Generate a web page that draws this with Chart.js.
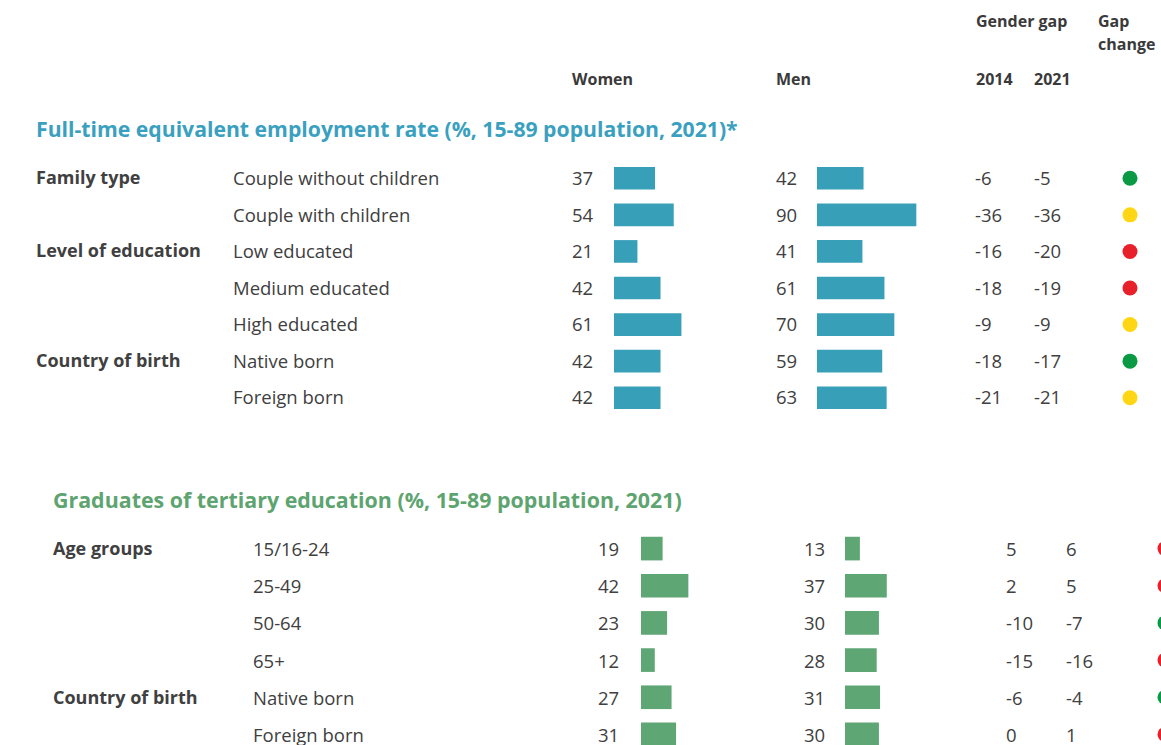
<!DOCTYPE html>
<html><head><meta charset="utf-8">
<script src="https://cdn.jsdelivr.net/npm/chart.js@4/dist/chart.umd.min.js"></script>
<style>
html,body{margin:0;padding:0;width:1161px;height:745px;overflow:hidden;background:#fff;font-family:"Open Sans",sans-serif;color:#404040}
.t{position:absolute;white-space:nowrap;line-height:1.2;transform:translateY(-50%);font-size:18.5px}
.b{font-weight:bold;font-size:18px}
.h{font-weight:bold;font-size:16px;color:#3a3a3a}
canvas{position:absolute}
</style></head><body>
<script>
// ---------- DATA ----------
const empGroups   = ["Family type", "", "Level of education", "", "", "Country of birth", ""];
const empRows     = ["Couple without children", "Couple with children", "Low educated", "Medium educated", "High educated", "Native born", "Foreign born"];
const empWomen    = [37, 54, 21, 42, 61, 42, 42];
const empMen      = [42, 90, 41, 61, 70, 59, 63];
const empGap2014  = [-6, -36, -16, -18, -9, -18, -21];
const empGap2021  = [-5, -36, -20, -19, -9, -17, -21];
const empChange   = ["better", "same", "worse", "worse", "same", "better", "same"];

const gradGroups  = ["Age groups", "", "", "", "Country of birth", ""];
const gradRows    = ["15/16-24", "25-49", "50-64", "65+", "Native born", "Foreign born"];
const gradWomen   = [19, 42, 23, 12, 27, 31];
const gradMen     = [13, 37, 30, 28, 31, 30];
const gradGap2014 = [5, 2, -10, -15, -6, 0];
const gradGap2021 = [6, 5, -7, -16, -4, 1];
const gradChange  = ["worse", "worse", "better", "worse", "better", "worse"];

const changeColors = {better: "#0a9a44", same: "#ffd614", worse: "#e8202a"};

// ---------- helpers ----------
function txt(s, x, y, cls, color, size) {
  const d = document.createElement("div");
  d.className = "t " + (cls || "");
  d.textContent = s;
  d.style.left = x + "px";
  d.style.top = y + "px";
  if (color) d.style.color = color;
  if (size) d.style.fontSize = size + "px";
  document.body.appendChild(d);
}
function mkCanvas(x, y, w, h) {
  const c = document.createElement("canvas");
  c.width = w; c.height = h;
  c.style.left = x + "px"; c.style.top = y + "px";
  c.style.width = w + "px"; c.style.height = h + "px";
  document.body.appendChild(c);
  return c;
}
function barChart(x, top, rowH, labels, values, color, pxPerUnit, thick) {
  const w = 120, h = Math.round(rowH * labels.length);
  const c = mkCanvas(x, top, w, h);
  new Chart(c, {
    type: "bar",
    data: {labels: labels, datasets: [{data: values, backgroundColor: color, borderWidth: 0, barThickness: thick}]},
    options: {
      indexAxis: "y", responsive: false, animation: false, devicePixelRatio: 1,
      layout: {padding: 0, autoPadding: false},
      plugins: {legend: {display: false}, tooltip: {enabled: false}},
      scales: {x: {display: false, min: 0, max: w / pxPerUnit}, y: {display: false}}
    }
  });
}
function dotChart(cx, top, rowH, changes) {
  const w = 30, h = Math.round(rowH * changes.length);
  const c = mkCanvas(cx - w / 2, top, w, h);
  new Chart(c, {
    type: "scatter",
    data: {datasets: [{
      data: changes.map((s, i) => ({x: 0, y: i})),
      pointRadius: 7.5, pointHoverRadius: 7.5, borderWidth: 0,
      pointBackgroundColor: changes.map(s => changeColors[s])
    }]},
    options: {
      responsive: false, animation: false, devicePixelRatio: 1,
      layout: {padding: 0, autoPadding: false},
      plugins: {legend: {display: false}, tooltip: {enabled: false}},
      scales: {x: {display: false, min: -1, max: 1}, y: {display: false, min: -0.5, max: changes.length - 0.5, reverse: true}}
    }
  });
}

// ---------- headers ----------
txt("Gender gap", 976, 22, "h");
txt("Gap", 1098, 22, "h");
txt("change", 1098, 45, "h");
txt("Women", 572, 80, "h");
txt("Men", 776, 80, "h");
txt("2014", 976, 80, "h");
txt("2021", 1034, 80, "h");

// ---------- section 1 ----------
const blue = "#379fb8";
txt("Full-time equivalent employment rate (%, 15-89 population, 2021)*", 36, 129, "b", "#3aa0bf", 21.2);
const r1 = 36.5, c1 = 178;
empRows.forEach((r, i) => {
  const y = c1 + i * r1;
  if (empGroups[i]) txt(empGroups[i], 36, y, "b");
  txt(r, 233, y);
  txt(String(empWomen[i]), 572, y);
  txt(String(empMen[i]), 776, y);
  txt(String(empGap2014[i]), 975, y);
  txt(String(empGap2021[i]), 1034, y);
});
barChart(614, c1 - r1 / 2, r1, empRows, empWomen, blue, 1.1, 22);
barChart(817, c1 - r1 / 2, r1, empRows, empMen, blue, 1.1, 22);
dotChart(1129.5, c1 - r1 / 2, r1, empChange);

// ---------- section 2 ----------
const green = "#5ea674";
txt("Graduates of tertiary education (%, 15-89 population, 2021)", 53, 500, "b", "#5ea470", 21.4);
const r2 = 37.2, c2 = 549;
gradRows.forEach((r, i) => {
  const y = c2 + i * r2;
  if (gradGroups[i]) txt(gradGroups[i], 53, y, "b");
  txt(r, 253, y);
  txt(String(gradWomen[i]), 598, y);
  txt(String(gradMen[i]), 804, y);
  txt(String(gradGap2014[i]), 1006, y);
  txt(String(gradGap2021[i]), 1066, y);
});
barChart(641, c2 - r2 / 2, r2, gradRows, gradWomen, green, 1.12, 23);
barChart(845, c2 - r2 / 2, r2, gradRows, gradMen, green, 1.12, 23);
dotChart(1165, c2 - r2 / 2, r2, gradChange);
</script>
</body></html>
